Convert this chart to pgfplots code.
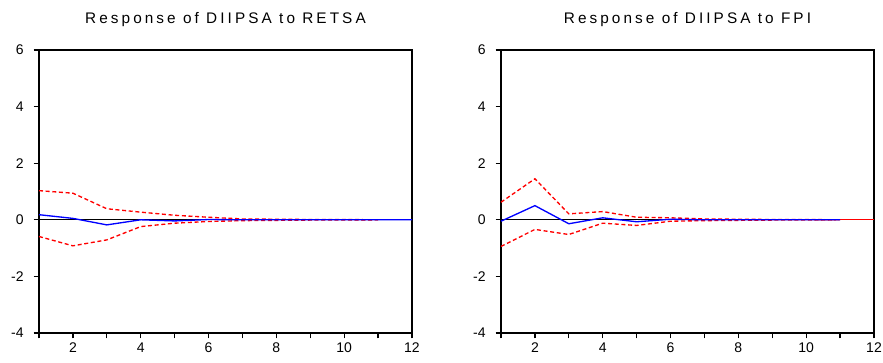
\documentclass[border=0pt]{standalone}
\usepackage{fontspec}
\setmainfont{Liberation Sans}
\newfontfamily\ttlfont[LetterSpace=20]{Liberation Sans}
\usepackage{pgfplots}
\pgfplotsset{compat=1.18}
\pgfplotsset{irf/.style={
  scale only axis, width=279.75pt, height=212.25pt,
  xmin=1, xmax=12, ymin=-4, ymax=6,
  xtick={2,4,...,12}, minor xtick={1,3,...,11},
  ytick={-4,-2,...,6},
  tick align=outside, xtick pos=bottom, ytick pos=left,
  major tick length=4pt, minor tick length=4pt,
  every tick/.style={black, line width=1pt},
  axis line style={line width=1.2pt},
  tick label style={font=\fontsize{10.5}{12}\selectfont},
  yticklabel style={xshift=-4pt},
  /pgf/number format/assume math mode=true,
  title style={at={(0.5,1)}, anchor=center, yshift=17pt, font=\ttlfont\fontsize{11.5}{13}\selectfont},
  clip=false,
}}
\begin{document}
\begin{tikzpicture}
\useasboundingbox (-29.25pt,-22.5pt) rectangle (633pt,249.75pt);
\begin{axis}[irf, at={(0pt,0pt)}, title={Response of DIIPSA to RETSA}]
\addplot[black, line width=1pt] coordinates {(1,0) (12,0)};
\addplot[red, densely dashed, line width=1pt] coordinates {(1,1.03) (2,0.94) (3,0.39) (4,0.27) (5,0.16) (6,0.09) (7,0.03) (8,0.02) (9,0.01) (10,0.01) (11,0.0)};
\addplot[red, densely dashed, line width=1pt] coordinates {(1,-0.59) (2,-0.92) (3,-0.71) (4,-0.24) (5,-0.12) (6,-0.06) (7,-0.03) (8,-0.02) (9,-0.01) (10,-0.01) (11,0.0)};
\addplot[blue, line width=1pt] coordinates {(1,0.18) (2,0.05) (3,-0.18) (4,0.0) (5,-0.04) (6,0.01) (7,0.0) (8,0.0) (9,0.0) (10,0.0) (11,0.0) (12,0)};
\end{axis}
\begin{axis}[irf, at={(346.5pt,0pt)}, title={Response of DIIPSA to FPI}]
\addplot[black, line width=1pt] coordinates {(1,0) (11,0)};
\addplot[red, line width=1pt] coordinates {(11,0) (12,0)};
\addplot[red, densely dashed, line width=1pt] coordinates {(1,0.62) (2,1.45) (3,0.21) (4,0.29) (5,0.09) (6,0.07) (7,0.03) (8,0.02) (9,0.01) (10,0.01) (11,0.0)};
\addplot[red, densely dashed, line width=1pt] coordinates {(1,-0.94) (2,-0.34) (3,-0.52) (4,-0.12) (5,-0.2) (6,-0.05) (7,-0.03) (8,-0.02) (9,-0.01) (10,-0.01) (11,0.0)};
\addplot[blue, line width=1pt] coordinates {(1,-0.05) (2,0.5) (3,-0.14) (4,0.07) (5,-0.07) (6,0.02) (7,0.0) (8,0.0) (9,0.0) (10,0.0) (11,0.0)};
\end{axis}
\end{tikzpicture}
\end{document}
